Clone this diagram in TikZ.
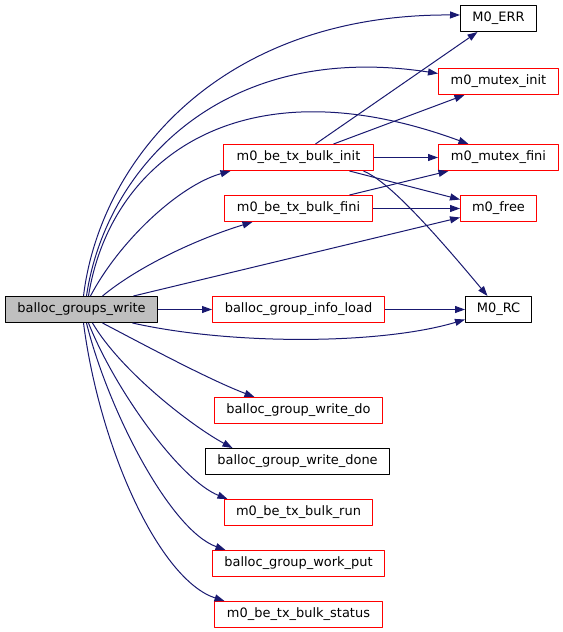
\documentclass[tikz,border=0pt]{standalone}
\usepackage{fontspec}
\newfontfamily\dvsans{DejaVu Sans}
\usetikzlibrary{arrows.meta}
\definecolor{edgeblue}{RGB}{25,25,112}
\definecolor{boxred}{RGB}{255,0,0}
\definecolor{boxgray}{RGB}{191,191,191}

\begin{document}
\begin{tikzpicture}[x=1bp,y=-1bp,line join=round,
  fn/.style={draw=boxred,line width=1bp,minimum height=26bp,inner sep=0pt,
    font=\dvsans\fontsize{13}{15}\selectfont},
  fnblack/.style={fn,draw=black},
  fnroot/.style={fnblack,fill=boxgray},
  call/.style={draw=edgeblue,line width=1bp,-{Triangle[length=10bp,width=7bp]}}]
\useasboundingbox (0,0) rectangle (563,632);
% functions
\node[fnroot,minimum width=152bp] (bgw) at (81.5,309.5) {balloc\_groups\_write};
\node[fn,minimum width=172bp] (load) at (298.5,309.5) {balloc\_group\_info\_load};
\node[fnblack,minimum width=66bp] (rc) at (498.5,309.5) {M0\_RC};
\node[fnblack,minimum width=76bp] (err) at (498.5,18.5) {M0\_ERR};
\node[fn,minimum width=120bp] (minit) at (498.5,81.5) {m0\_mutex\_init};
\node[fn,minimum width=120bp] (mfini) at (498.5,157.5) {m0\_mutex\_fini};
\node[fn,minimum width=76bp] (mfree) at (498.5,208.5) {m0\_free};
\node[fn,minimum width=150bp] (binit) at (298.5,157.5) {m0\_be\_tx\_bulk\_init};
\node[fn,minimum width=148bp] (bfini) at (298.5,208.5) {m0\_be\_tx\_bulk\_fini};
\node[fn,minimum width=168bp] (wdo) at (298.5,410.5) {balloc\_group\_write\_do};
\node[fnblack,minimum width=184bp] (wdone) at (297.5,461.5) {balloc\_group\_write\_done};
\node[fn,minimum width=148bp] (brun) at (298.5,512.5) {m0\_be\_tx\_bulk\_run};
\node[fn,minimum width=172bp] (wput) at (298.5,563.5) {balloc\_group\_work\_put};
\node[fn,minimum width=168bp] (bstatus) at (298.5,614.5) {m0\_be\_tx\_bulk\_status};
% calls from balloc_groups_write
\draw[call] ([xshift=2bp]bgw.north) .. controls (100,160) and (220,14) .. ([yshift=3.5bp]err.west);
\draw[call] ([xshift=5bp]bgw.north) .. controls (105,170) and (220,40) .. ([yshift=8bp]minit.west);
\draw[call] ([xshift=7bp]bgw.north) .. controls (110,160) and (240,60) .. ([xshift=-30bp]mfini.north);
\draw[call] ([xshift=9bp]bgw.north) .. controls (120,240) and (180,185) .. ([xshift=-68bp]binit.south);
\draw[call] ([xshift=21bp]bgw.north) .. controls (140,265) and (200,238) .. ([xshift=-46bp]bfini.south);
\draw[call] ([xshift=52bp]bgw.north) -- ([yshift=-9bp]mfree.west);
\draw[call] (bgw.east) -- (load.west);
\draw[call] ([xshift=51bp]bgw.south) .. controls (230,345) and (380,345) .. ([yshift=-10bp]rc.west);
\draw[call] ([xshift=21bp]bgw.south) .. controls (150,348) and (210,380) .. ([xshift=-44bp]wdo.north);
\draw[call] ([xshift=11bp]bgw.south) .. controls (120,370) and (190,425) .. ([xshift=-65bp]wdone.north);
\draw[call] ([xshift=7bp]bgw.south) .. controls (115,390) and (180,480) .. ([xshift=-71bp]brun.north);
\draw[call] ([xshift=5bp]bgw.south) .. controls (108,410) and (170,530) .. ([xshift=-73bp]wput.north);
\draw[call] ([xshift=2bp]bgw.south) .. controls (100,450) and (160,580) .. ([xshift=-74bp]bstatus.north);
% calls from m0_be_tx_bulk_init
\draw[call] ([xshift=17bp]binit.north) -- ([xshift=-21bp]err.south);
\draw[call] ([xshift=35bp]binit.north) -- ([xshift=-34bp]minit.south);
\draw[call] (binit.east) -- (mfini.west);
\draw[call] ([xshift=51bp]binit.south) -- ([yshift=9bp]mfree.west);
\draw[call] ([xshift=65bp]binit.south) .. controls (385,180) and (420,215) .. ([xshift=-11bp]rc.north);
% calls from m0_be_tx_bulk_fini
\draw[call] ([xshift=51bp]bfini.north) -- ([xshift=-50bp]mfini.south);
\draw[call] (bfini.east) -- (mfree.west);
% calls from balloc_group_info_load
\draw[call] (load.east) -- (rc.west);
\end{tikzpicture}
\end{document}
